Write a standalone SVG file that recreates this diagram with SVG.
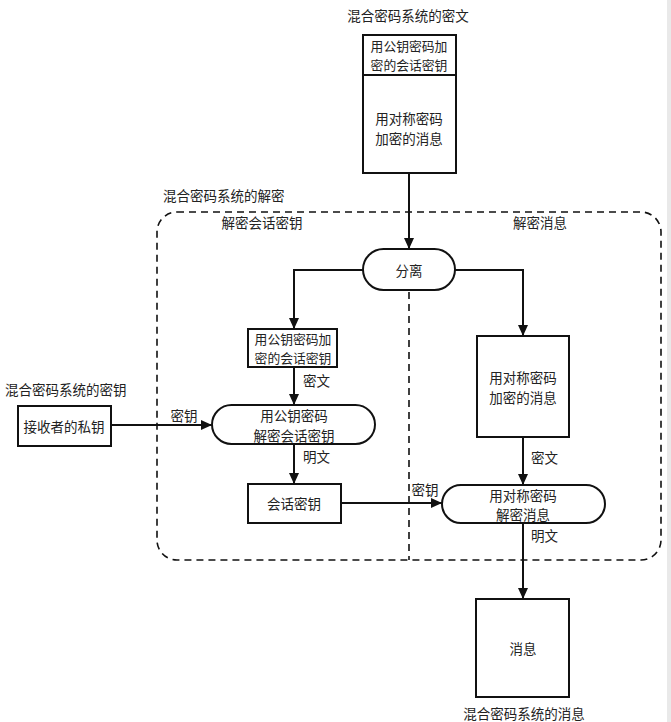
<svg xmlns="http://www.w3.org/2000/svg" width="671" height="722" viewBox="0 0 671 722">
<style>
text{font-family:"Noto Sans CJK SC","Liberation Sans",sans-serif;font-size:13.5px;fill:#222;dominant-baseline:central}
.c{text-anchor:middle}
.s{font-size:12.8px}
.box{fill:#fff;stroke:#111;stroke-width:2}
.ln{fill:none;stroke:#111;stroke-width:2}
.dash{fill:none;stroke:#111;stroke-width:1.6;stroke-dasharray:7 5}
</style>
<defs>
<marker id="ah" markerUnits="userSpaceOnUse" markerWidth="12" markerHeight="10" refX="11" refY="5" orient="auto">
<path d="M0,0 L11,5 L0,10 Z" fill="#111"/>
</marker>
</defs>
<rect x="0" y="0" width="671" height="722" fill="#fff"/>
<rect x="667" y="0" width="4" height="722" fill="#e9e9e9"/>

<g id="group-decrypt">
<rect class="dash" x="157" y="212" width="504" height="348" rx="20"/>
<line class="dash" x1="409" y1="292" x2="409" y2="560"/>
<text x="163" y="195">混合密码系统的解密</text>
<text class="c" x="262" y="222">解密会话密钥</text>
<text class="c" x="540" y="222">解密消息</text>
</g>

<g id="connectors">
<line class="ln" x1="409" y1="173" x2="409" y2="249" marker-end="url(#ah)"/>
<path class="ln" d="M363,270 H294 V329" marker-end="url(#ah)"/>
<path class="ln" d="M455,270 H523 V336" marker-end="url(#ah)"/>
<line class="ln" x1="294" y1="367" x2="294" y2="405" marker-end="url(#ah)"/>
<line class="ln" x1="294" y1="444" x2="294" y2="484" marker-end="url(#ah)"/>
<line class="ln" x1="111" y1="425" x2="212" y2="425" marker-end="url(#ah)"/>
<line class="ln" x1="341" y1="503" x2="442" y2="503" marker-end="url(#ah)"/>
<line class="ln" x1="523" y1="437" x2="523" y2="485" marker-end="url(#ah)"/>
<line class="ln" x1="523" y1="523" x2="523" y2="599" marker-end="url(#ah)"/>
<text x="303" y="380">密文</text>
<text x="303" y="456">明文</text>
<text class="c" x="184" y="415">密钥</text>
<text class="c" x="425" y="489">密钥</text>
<text x="531" y="457">密文</text>
<text x="531" y="535">明文</text>
</g>

<g id="ciphertext">
<text class="c" x="408" y="15">混合密码系统的密文</text>
<rect class="box" x="363" y="35" width="93" height="138"/>
<line class="ln" x1="363" y1="75" x2="456" y2="75"/>
<text class="c s" x="409" y="45.5">用公钥密码加</text>
<text class="c s" x="409" y="64.5">密的会话密钥</text>
<text class="c" x="409" y="118">用对称密码</text>
<text class="c" x="409" y="138">加密的消息</text>
</g>

<g id="split">
<rect class="box" x="363" y="249" width="92" height="41" rx="20.5"/>
<text class="c" x="409" y="270">分离</text>
</g>

<g id="enc-session-key">
<rect class="box" x="248" y="329" width="89" height="38"/>
<text class="c s" x="293" y="338.5">用公钥密码加</text>
<text class="c s" x="293" y="357.5">密的会话密钥</text>
</g>

<g id="private-key">
<text x="5" y="389">混合密码系统的密钥</text>
<rect class="box" x="18" y="406" width="93" height="40"/>
<text class="c" x="64" y="426">接收者的私钥</text>
</g>

<g id="decrypt-session-key">
<rect class="box" x="212" y="405" width="163" height="39" rx="19.5"/>
<text class="c" x="294" y="414.5">用公钥密码</text>
<text class="c" x="294" y="434.5">解密会话密钥</text>
</g>

<g id="session-key">
<rect class="box" x="248" y="484" width="93" height="39"/>
<text class="c" x="294" y="503">会话密钥</text>
</g>

<g id="enc-message">
<rect class="box" x="477" y="336" width="92" height="101"/>
<text class="c" x="523" y="377">用对称密码</text>
<text class="c" x="523" y="397">加密的消息</text>
</g>

<g id="decrypt-message">
<rect class="box" x="442" y="485" width="163" height="38" rx="19"/>
<text class="c" x="523" y="494.5">用对称密码</text>
<text class="c" x="523" y="514">解密消息</text>
</g>

<g id="message">
<rect class="box" x="476" y="599" width="93" height="98"/>
<text class="c" x="523" y="648">消息</text>
<text class="c" x="524" y="713">混合密码系统的消息</text>
</g>
</svg>
